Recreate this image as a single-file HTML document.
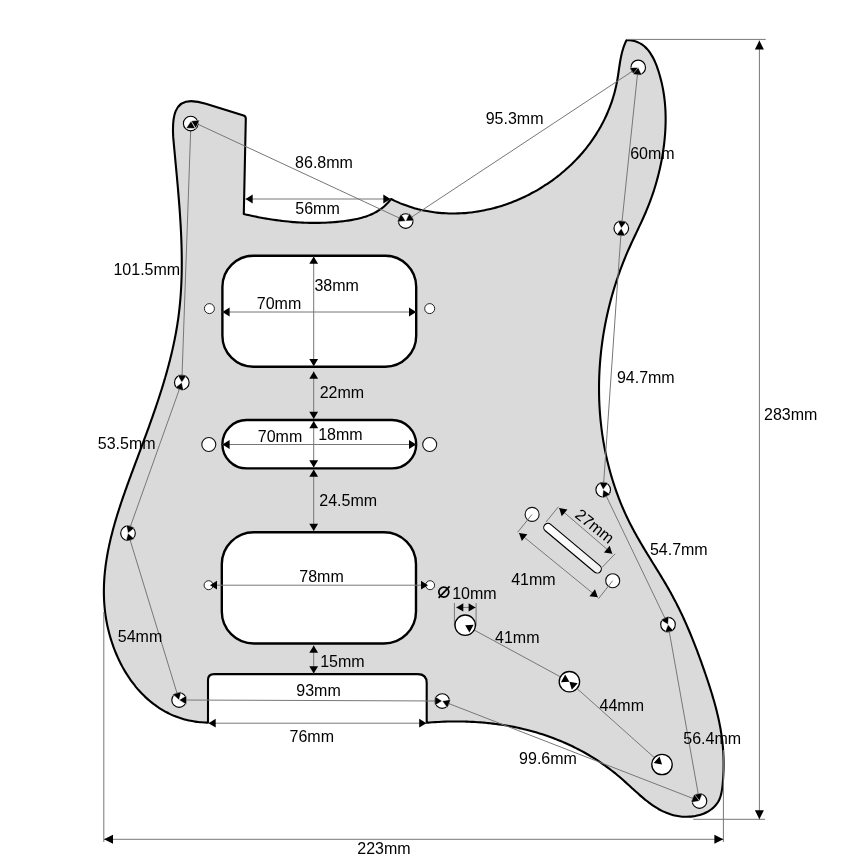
<!DOCTYPE html>
<html><head><meta charset="utf-8"><style>html,body{margin:0;padding:0;background:#fff;width:868px;height:868px;overflow:hidden}svg{display:block;will-change:transform}</style></head>
<body>
<svg width="868" height="868" viewBox="0 0 868 868">
<rect width="868" height="868" fill="#fff"/>
<path d="M208.00,722.60 C207.45,722.58 205.80,722.56 204.71,722.51 C203.62,722.46 202.54,722.39 201.46,722.31 C200.39,722.23 199.33,722.12 198.27,722.00 C197.22,721.89 196.17,721.75 195.13,721.60 C194.09,721.44 193.06,721.27 192.04,721.08 C191.02,720.90 190.00,720.69 189.00,720.47 C187.99,720.26 186.99,720.02 186.01,719.77 C185.02,719.52 184.04,719.25 183.07,718.96 C182.10,718.68 181.13,718.38 180.18,718.07 C179.23,717.75 178.28,717.42 177.34,717.08 C176.41,716.74 175.48,716.38 174.56,716.00 C173.64,715.63 172.73,715.24 171.82,714.84 C170.92,714.44 170.03,714.02 169.14,713.59 C168.26,713.16 167.38,712.72 166.51,712.26 C165.65,711.80 164.79,711.33 163.94,710.85 C163.08,710.36 162.24,709.86 161.41,709.35 C160.58,708.84 159.75,708.32 158.94,707.79 C158.12,707.25 157.31,706.70 156.52,706.14 C155.72,705.58 154.93,705.01 154.15,704.43 C153.37,703.84 152.59,703.25 151.83,702.64 C151.07,702.03 150.31,701.41 149.57,700.78 C148.82,700.15 148.09,699.51 147.36,698.86 C146.63,698.21 145.91,697.55 145.20,696.87 C144.49,696.20 143.79,695.52 143.10,694.83 C142.40,694.13 141.72,693.43 141.05,692.72 C140.37,692.00 139.71,691.28 139.05,690.55 C138.39,689.82 137.75,689.08 137.11,688.32 C136.47,687.57 135.84,686.81 135.22,686.05 C134.60,685.28 133.99,684.50 133.38,683.72 C132.78,682.93 132.19,682.14 131.60,681.34 C131.02,680.54 130.44,679.73 129.87,678.91 C129.31,678.09 128.75,677.27 128.20,676.43 C127.65,675.60 127.11,674.76 126.58,673.92 C126.05,673.07 125.53,672.22 125.02,671.36 C124.51,670.50 124.00,669.63 123.51,668.76 C123.02,667.89 122.53,667.01 122.06,666.12 C121.58,665.24 121.12,664.35 120.66,663.45 C120.20,662.55 119.75,661.65 119.31,660.74 C118.88,659.84 118.45,658.92 118.03,658.01 C117.61,657.09 117.20,656.17 116.79,655.24 C116.39,654.31 116.00,653.38 115.62,652.44 C115.23,651.51 114.86,650.57 114.49,649.63 C114.13,648.68 113.78,647.73 113.43,646.78 C113.08,645.83 112.75,644.88 112.42,643.92 C112.09,642.96 111.77,642.00 111.47,641.04 C111.16,640.07 110.86,639.11 110.57,638.14 C110.28,637.17 110.00,636.19 109.73,635.22 C109.46,634.25 109.20,633.27 108.94,632.29 C108.69,631.32 108.45,630.34 108.22,629.35 C107.98,628.37 107.76,627.39 107.55,626.41 C107.33,625.42 107.13,624.44 106.93,623.45 C106.74,622.47 106.55,621.48 106.38,620.49 C106.20,619.51 106.03,618.52 105.88,617.53 C105.72,616.55 105.57,615.56 105.44,614.57 C105.30,613.58 105.17,612.60 105.05,611.61 C104.93,610.62 104.82,609.64 104.72,608.65 C104.62,607.67 104.53,606.68 104.45,605.69 C104.37,604.71 104.30,603.72 104.23,602.74 C104.17,601.75 104.11,600.77 104.07,599.78 C104.02,598.80 103.98,597.81 103.95,596.83 C103.92,595.84 103.90,594.86 103.89,593.87 C103.87,592.89 103.87,591.91 103.87,590.92 C103.88,589.94 103.89,588.96 103.91,587.97 C103.93,586.99 103.95,586.01 103.99,585.02 C104.02,584.04 104.07,583.06 104.12,582.08 C104.17,581.10 104.23,580.11 104.29,579.13 C104.36,578.15 104.43,577.17 104.51,576.19 C104.59,575.21 104.67,574.23 104.77,573.25 C104.86,572.27 104.96,571.29 105.07,570.31 C105.18,569.33 105.29,568.35 105.41,567.37 C105.53,566.39 105.66,565.41 105.79,564.43 C105.93,563.45 106.07,562.47 106.22,561.49 C106.36,560.52 106.51,559.54 106.67,558.56 C106.83,557.58 107.00,556.61 107.17,555.63 C107.34,554.65 107.51,553.68 107.70,552.70 C107.88,551.72 108.07,550.75 108.26,549.77 C108.45,548.80 108.65,547.82 108.86,546.85 C109.06,545.87 109.27,544.90 109.48,543.92 C109.70,542.95 109.92,541.97 110.14,541.00 C110.37,540.03 110.60,539.05 110.83,538.08 C111.07,537.11 111.31,536.13 111.55,535.16 C111.79,534.19 112.04,533.22 112.29,532.25 C112.55,531.27 112.80,530.30 113.06,529.33 C113.32,528.36 113.59,527.39 113.86,526.42 C114.13,525.45 114.40,524.48 114.68,523.51 C114.96,522.54 115.24,521.57 115.52,520.60 C115.81,519.63 116.09,518.67 116.39,517.70 C116.68,516.73 116.97,515.76 117.27,514.80 C117.57,513.83 117.87,512.86 118.18,511.90 C118.48,510.93 118.79,509.96 119.10,509.00 C119.41,508.03 119.72,507.07 120.04,506.10 C120.36,505.14 120.68,504.17 121.00,503.21 C121.32,502.24 121.64,501.28 121.97,500.32 C122.30,499.35 122.63,498.39 122.96,497.43 C123.29,496.47 123.62,495.50 123.96,494.54 C124.29,493.58 124.63,492.62 124.97,491.66 C125.31,490.70 125.65,489.74 125.99,488.78 C126.33,487.82 126.68,486.86 127.02,485.90 C127.37,484.94 127.71,483.98 128.06,483.02 C128.41,482.07 128.76,481.11 129.11,480.15 C129.46,479.19 129.81,478.24 130.16,477.28 C130.51,476.33 130.87,475.37 131.22,474.41 C131.57,473.46 131.93,472.50 132.28,471.55 C132.64,470.59 132.99,469.64 133.35,468.69 C133.70,467.73 134.06,466.78 134.42,465.83 C134.77,464.88 135.13,463.92 135.49,462.97 C135.84,462.02 136.20,461.07 136.55,460.12 C136.91,459.17 137.27,458.22 137.62,457.27 C137.98,456.32 138.33,455.37 138.69,454.42 C139.04,453.47 139.40,452.52 139.75,451.57 C140.11,450.63 140.46,449.68 140.81,448.73 C141.17,447.78 141.52,446.84 141.87,445.89 C142.22,444.94 142.58,444.00 142.93,443.05 C143.28,442.10 143.63,441.16 143.98,440.21 C144.33,439.26 144.68,438.32 145.02,437.37 C145.37,436.43 145.72,435.48 146.07,434.54 C146.41,433.59 146.76,432.65 147.10,431.70 C147.45,430.76 147.79,429.81 148.13,428.87 C148.48,427.93 148.82,426.98 149.16,426.04 C149.50,425.09 149.84,424.15 150.18,423.21 C150.51,422.26 150.85,421.32 151.19,420.37 C151.52,419.43 151.86,418.48 152.19,417.54 C152.52,416.60 152.85,415.65 153.18,414.71 C153.51,413.76 153.84,412.82 154.17,411.88 C154.49,410.93 154.82,409.99 155.14,409.04 C155.47,408.10 155.79,407.16 156.11,406.21 C156.43,405.27 156.75,404.32 157.06,403.38 C157.38,402.43 157.69,401.49 158.01,400.54 C158.32,399.60 158.63,398.65 158.94,397.70 C159.25,396.76 159.56,395.81 159.86,394.87 C160.17,393.92 160.47,392.97 160.77,392.03 C161.07,391.08 161.37,390.13 161.66,389.19 C161.96,388.24 162.26,387.29 162.55,386.34 C162.84,385.40 163.13,384.45 163.42,383.50 C163.70,382.55 163.99,381.60 164.27,380.65 C164.55,379.70 164.83,378.75 165.11,377.80 C165.39,376.85 165.66,375.90 165.93,374.95 C166.20,374.00 166.47,373.05 166.74,372.09 C167.01,371.14 167.27,370.19 167.53,369.24 C167.79,368.28 168.05,367.33 168.31,366.37 C168.56,365.42 168.82,364.47 169.06,363.51 C169.31,362.55 169.56,361.60 169.80,360.64 C170.05,359.68 170.29,358.73 170.53,357.77 C170.76,356.81 171.00,355.85 171.23,354.89 C171.46,353.93 171.69,352.97 171.91,352.01 C172.14,351.05 172.36,350.09 172.57,349.13 C172.79,348.17 173.01,347.20 173.22,346.24 C173.43,345.27 173.63,344.31 173.84,343.34 C174.04,342.38 174.24,341.41 174.44,340.45 C174.64,339.48 174.83,338.51 175.02,337.54 C175.21,336.57 175.39,335.60 175.57,334.63 C175.76,333.66 175.93,332.69 176.11,331.72 C176.28,330.75 176.45,329.77 176.62,328.80 C176.78,327.82 176.95,326.85 177.10,325.87 C177.26,324.90 177.42,323.92 177.57,322.94 C177.72,321.96 177.86,320.98 178.00,320.00 C178.15,319.02 178.28,318.04 178.42,317.06 C178.55,316.07 178.68,315.09 178.80,314.11 C178.93,313.12 179.05,312.13 179.16,311.15 C179.28,310.16 179.39,309.17 179.50,308.18 C179.60,307.19 179.71,306.20 179.80,305.21 C179.90,304.22 180.00,303.23 180.09,302.24 C180.18,301.24 180.27,300.25 180.35,299.25 C180.43,298.26 180.51,297.26 180.59,296.27 C180.66,295.27 180.73,294.27 180.80,293.27 C180.87,292.27 180.93,291.28 180.99,290.27 C181.05,289.27 181.11,288.27 181.16,287.27 C181.21,286.27 181.26,285.27 181.31,284.27 C181.35,283.26 181.39,282.26 181.43,281.25 C181.47,280.25 181.51,279.24 181.54,278.24 C181.57,277.23 181.60,276.23 181.62,275.22 C181.65,274.21 181.67,273.21 181.69,272.20 C181.71,271.19 181.72,270.18 181.74,269.17 C181.75,268.16 181.76,267.16 181.77,266.15 C181.77,265.14 181.78,264.13 181.78,263.11 C181.78,262.10 181.78,261.09 181.77,260.08 C181.77,259.07 181.76,258.06 181.75,257.05 C181.74,256.03 181.72,255.02 181.71,254.01 C181.69,253.00 181.68,251.98 181.65,250.97 C181.63,249.96 181.61,248.95 181.58,247.93 C181.56,246.92 181.53,245.90 181.50,244.89 C181.47,243.88 181.44,242.86 181.40,241.85 C181.37,240.84 181.33,239.82 181.29,238.81 C181.25,237.79 181.21,236.78 181.16,235.76 C181.12,234.75 181.07,233.74 181.03,232.72 C180.98,231.71 180.93,230.69 180.88,229.68 C180.83,228.67 180.77,227.65 180.72,226.64 C180.66,225.62 180.60,224.61 180.54,223.60 C180.49,222.58 180.42,221.57 180.36,220.56 C180.30,219.54 180.24,218.53 180.17,217.52 C180.10,216.51 180.04,215.49 179.97,214.48 C179.90,213.47 179.83,212.46 179.76,211.45 C179.69,210.43 179.61,209.42 179.54,208.41 C179.47,207.40 179.39,206.39 179.31,205.38 C179.24,204.37 179.16,203.36 179.08,202.35 C179.00,201.34 178.92,200.34 178.84,199.33 C178.76,198.32 178.68,197.31 178.59,196.31 C178.51,195.30 178.43,194.29 178.34,193.29 C178.26,192.28 178.17,191.27 178.08,190.27 C178.00,189.27 177.91,188.26 177.82,187.26 C177.74,186.26 177.65,185.25 177.56,184.25 C177.47,183.25 177.38,182.25 177.29,181.25 C177.20,180.25 177.11,179.25 177.02,178.25 C176.93,177.25 176.83,176.25 176.74,175.26 C176.65,174.26 176.56,173.26 176.47,172.27 C176.37,171.27 176.28,170.28 176.19,169.28 C176.10,168.29 176.00,167.30 175.91,166.31 C175.82,165.31 175.73,164.32 175.63,163.33 C175.54,162.35 175.45,161.36 175.35,160.37 C175.26,159.38 175.17,158.40 175.08,157.41 C174.98,156.43 174.89,155.44 174.80,154.46 C174.71,153.48 174.62,152.49 174.53,151.51 C174.43,150.53 174.34,149.55 174.25,148.57 C174.16,147.60 174.07,146.62 173.98,145.64 C173.90,144.67 173.81,143.69 173.72,142.72 C173.63,141.75 173.54,140.78 173.46,139.81 C173.37,138.84 173.24,137.38 173.20,136.90 C172,116 175,101.1 191.1,101.1 C197.5,101.1 201.3,102.3 205.8,103.8 L243.6,115.5 Q245.8,116.2 245.8,118.6 L243.80,214.00 C244.28,214.11 245.70,214.46 246.66,214.68 C247.62,214.90 248.58,215.12 249.54,215.33 C250.50,215.55 251.47,215.76 252.44,215.97 C253.41,216.17 254.38,216.38 255.35,216.58 C256.33,216.78 257.30,216.97 258.28,217.16 C259.26,217.35 260.24,217.54 261.23,217.73 C262.21,217.91 263.20,218.09 264.19,218.26 C265.17,218.44 266.17,218.61 267.16,218.78 C268.15,218.94 269.15,219.10 270.14,219.26 C271.14,219.42 272.14,219.57 273.14,219.72 C274.14,219.87 275.14,220.01 276.15,220.15 C277.15,220.29 278.16,220.42 279.17,220.55 C280.17,220.68 281.18,220.81 282.19,220.93 C283.20,221.05 284.21,221.16 285.23,221.27 C286.24,221.38 287.25,221.48 288.27,221.58 C289.28,221.68 290.30,221.78 291.32,221.86 C292.33,221.95 293.35,222.04 294.37,222.11 C295.39,222.19 296.41,222.26 297.43,222.33 C298.45,222.40 299.47,222.46 300.49,222.52 C301.51,222.57 302.54,222.62 303.56,222.67 C304.58,222.71 305.60,222.75 306.62,222.78 C307.65,222.81 308.67,222.84 309.69,222.86 C310.72,222.88 311.74,222.89 312.76,222.90 C313.78,222.91 314.81,222.91 315.83,222.91 C316.85,222.91 317.87,222.90 318.90,222.88 C319.92,222.86 320.94,222.84 321.96,222.81 C322.98,222.78 324.00,222.74 325.02,222.70 C326.04,222.66 327.06,222.61 328.08,222.55 C329.10,222.50 330.11,222.44 331.13,222.37 C332.15,222.30 333.16,222.22 334.18,222.14 C335.19,222.05 336.20,221.96 337.22,221.87 C338.23,221.77 339.24,221.66 340.25,221.55 C341.26,221.44 342.26,221.32 343.27,221.20 C344.28,221.07 345.28,220.94 346.29,220.80 C347.29,220.66 348.29,220.51 349.29,220.35 C350.29,220.19 351.28,220.03 352.27,219.85 C353.27,219.67 354.26,219.49 355.24,219.28 C356.22,219.08 357.20,218.87 358.18,218.65 C359.15,218.42 360.12,218.18 361.08,217.92 C362.04,217.66 362.99,217.39 363.94,217.10 C364.88,216.81 365.82,216.51 366.75,216.18 C367.68,215.85 368.60,215.51 369.51,215.14 C370.43,214.78 371.33,214.39 372.22,213.98 C373.11,213.57 373.99,213.14 374.86,212.68 C375.72,212.23 376.58,211.75 377.42,211.24 C378.27,210.74 379.10,210.21 379.91,209.65 C380.73,209.09 381.53,208.50 382.32,207.89 C383.11,207.27 383.88,206.63 384.64,205.95 C385.40,205.28 386.14,204.57 386.86,203.83 C387.59,203.09 388.30,202.32 388.99,201.52 C389.67,200.71 390.66,199.42 391.00,199.00 C391.46,199.23 392.84,199.92 393.76,200.36 C394.69,200.80 395.61,201.23 396.55,201.65 C397.48,202.07 398.41,202.47 399.35,202.87 C400.28,203.26 401.22,203.65 402.17,204.02 C403.11,204.39 404.06,204.75 405.00,205.10 C405.95,205.45 406.90,205.79 407.86,206.11 C408.81,206.44 409.77,206.75 410.73,207.06 C411.68,207.36 412.65,207.66 413.61,207.94 C414.57,208.22 415.54,208.49 416.50,208.75 C417.47,209.01 418.44,209.26 419.41,209.49 C420.39,209.73 421.36,209.96 422.33,210.17 C423.31,210.39 424.29,210.59 425.27,210.79 C426.25,210.98 427.23,211.17 428.21,211.34 C429.19,211.51 430.17,211.67 431.16,211.82 C432.14,211.98 433.13,212.12 434.12,212.25 C435.10,212.38 436.09,212.50 437.08,212.61 C438.07,212.72 439.06,212.82 440.05,212.90 C441.04,212.99 442.04,213.07 443.03,213.14 C444.02,213.21 445.02,213.27 446.01,213.31 C447.01,213.36 448.00,213.40 449.00,213.43 C449.99,213.45 450.99,213.47 451.98,213.48 C452.98,213.49 453.97,213.48 454.97,213.47 C455.97,213.46 456.96,213.44 457.96,213.40 C458.96,213.37 459.95,213.33 460.95,213.28 C461.95,213.23 462.94,213.16 463.94,213.09 C464.93,213.02 465.93,212.94 466.92,212.85 C467.92,212.76 468.91,212.66 469.91,212.55 C470.90,212.44 471.89,212.33 472.88,212.20 C473.88,212.07 474.87,211.93 475.86,211.79 C476.85,211.64 477.84,211.48 478.83,211.32 C479.81,211.15 480.80,210.98 481.79,210.79 C482.77,210.61 483.76,210.42 484.74,210.22 C485.72,210.02 486.71,209.81 487.69,209.59 C488.67,209.37 489.64,209.14 490.62,208.90 C491.60,208.66 492.57,208.42 493.55,208.16 C494.52,207.91 495.49,207.64 496.46,207.37 C497.43,207.10 498.40,206.82 499.36,206.53 C500.33,206.24 501.29,205.94 502.25,205.63 C503.21,205.33 504.17,205.01 505.13,204.69 C506.08,204.36 507.03,204.03 507.99,203.69 C508.94,203.35 509.88,203.00 510.83,202.65 C511.77,202.29 512.72,201.92 513.66,201.55 C514.60,201.18 515.53,200.80 516.47,200.41 C517.40,200.02 518.33,199.62 519.26,199.21 C520.18,198.81 521.11,198.40 522.03,197.97 C522.95,197.55 523.86,197.12 524.78,196.69 C525.69,196.25 526.60,195.80 527.51,195.35 C528.41,194.90 529.31,194.44 530.21,193.97 C531.11,193.50 532.01,193.03 532.90,192.54 C533.79,192.06 534.67,191.57 535.56,191.07 C536.44,190.57 537.32,190.07 538.19,189.56 C539.06,189.04 539.93,188.52 540.80,188.00 C541.66,187.47 542.52,186.93 543.38,186.39 C544.24,185.85 545.09,185.30 545.93,184.74 C546.78,184.19 547.62,183.62 548.46,183.05 C549.30,182.48 550.13,181.91 550.95,181.32 C551.78,180.74 552.60,180.15 553.42,179.55 C554.23,178.95 555.05,178.34 555.85,177.73 C556.66,177.12 557.46,176.50 558.25,175.88 C559.05,175.25 559.84,174.62 560.62,173.98 C561.40,173.34 562.18,172.70 562.95,172.05 C563.72,171.40 564.49,170.74 565.25,170.07 C566.01,169.41 566.76,168.74 567.51,168.06 C568.26,167.38 569.00,166.70 569.74,166.01 C570.47,165.32 571.20,164.62 571.92,163.92 C572.65,163.22 573.36,162.51 574.07,161.80 C574.78,161.08 575.48,160.36 576.18,159.64 C576.88,158.91 577.56,158.18 578.25,157.44 C578.93,156.70 579.60,155.96 580.27,155.21 C580.94,154.46 581.60,153.70 582.26,152.94 C582.91,152.18 583.56,151.41 584.20,150.64 C584.83,149.87 585.47,149.09 586.09,148.31 C586.72,147.52 587.33,146.73 587.94,145.94 C588.55,145.14 589.15,144.34 589.75,143.54 C590.34,142.73 590.93,141.92 591.51,141.11 C592.09,140.29 592.66,139.47 593.22,138.65 C593.78,137.82 594.34,136.99 594.89,136.15 C595.43,135.32 595.97,134.48 596.50,133.63 C597.04,132.79 597.56,131.94 598.07,131.08 C598.59,130.23 599.09,129.37 599.59,128.50 C600.09,127.64 600.58,126.77 601.06,125.89 C601.54,125.02 602.01,124.14 602.48,123.26 C602.94,122.38 603.40,121.49 603.84,120.60 C604.29,119.71 604.73,118.81 605.16,117.91 C605.59,117.01 606.01,116.11 606.42,115.20 C606.83,114.29 607.23,113.38 607.62,112.47 C608.02,111.55 608.40,110.63 608.78,109.71 C609.15,108.78 609.52,107.85 609.87,106.92 C610.23,105.99 610.57,105.06 610.91,104.12 C611.25,103.18 611.58,102.24 611.90,101.29 C612.21,100.34 612.52,99.39 612.82,98.44 C613.12,97.49 613.41,96.53 613.69,95.57 C613.97,94.61 614.24,93.65 614.50,92.68 C614.76,91.72 615.01,90.75 615.25,89.77 C615.49,88.80 615.72,87.82 615.94,86.85 C616.16,85.87 616.37,84.89 616.57,83.90 C616.77,82.92 616.96,81.93 617.14,80.94 C617.32,79.95 617.49,78.95 617.65,77.96 C617.81,76.97 617.97,75.97 618.12,74.97 C618.27,73.97 618.41,72.98 618.56,71.98 C618.71,70.98 618.85,69.98 618.99,68.98 C619.14,67.99 619.28,66.99 619.44,65.99 C619.59,65.00 619.74,64.01 619.90,63.02 C620.06,62.03 620.23,61.04 620.41,60.05 C620.59,59.07 620.77,58.09 620.97,57.11 C621.17,56.14 621.38,55.16 621.61,54.20 C621.84,53.23 622.08,52.27 622.34,51.31 C622.60,50.36 622.88,49.41 623.18,48.47 C623.48,47.52 623.79,46.59 624.14,45.66 C624.48,44.73 624.85,43.81 625.24,42.90 C625.63,41.99 626.29,40.65 626.50,40.20 C627.06,40.22 628.77,40.21 629.85,40.30 C630.93,40.39 631.97,40.54 632.98,40.75 C633.98,40.95 634.95,41.21 635.88,41.51 C636.81,41.82 637.71,42.18 638.57,42.58 C639.44,42.99 640.27,43.44 641.06,43.93 C641.86,44.42 642.63,44.96 643.37,45.54 C644.11,46.11 644.81,46.73 645.50,47.37 C646.18,48.02 646.83,48.71 647.45,49.42 C648.08,50.14 648.68,50.89 649.26,51.66 C649.83,52.44 650.38,53.24 650.91,54.07 C651.44,54.90 651.94,55.75 652.43,56.62 C652.92,57.49 653.38,58.39 653.82,59.30 C654.27,60.20 654.69,61.13 655.10,62.07 C655.51,63.01 655.90,63.96 656.28,64.92 C656.65,65.88 657.01,66.86 657.36,67.83 C657.70,68.81 658.03,69.79 658.35,70.77 C658.67,71.76 658.98,72.74 659.28,73.73 C659.57,74.71 659.86,75.70 660.13,76.69 C660.40,77.67 660.67,78.66 660.92,79.65 C661.17,80.64 661.41,81.63 661.64,82.62 C661.87,83.61 662.09,84.60 662.29,85.59 C662.50,86.58 662.70,87.57 662.89,88.56 C663.07,89.55 663.25,90.54 663.42,91.54 C663.58,92.53 663.74,93.52 663.89,94.52 C664.03,95.51 664.17,96.50 664.30,97.50 C664.43,98.49 664.54,99.49 664.65,100.48 C664.76,101.48 664.86,102.47 664.95,103.47 C665.04,104.46 665.12,105.46 665.19,106.45 C665.26,107.45 665.32,108.44 665.38,109.44 C665.43,110.44 665.48,111.43 665.51,112.43 C665.55,113.42 665.58,114.42 665.60,115.42 C665.62,116.41 665.63,117.41 665.64,118.40 C665.64,119.40 665.63,120.40 665.62,121.39 C665.61,122.39 665.59,123.38 665.56,124.38 C665.54,125.38 665.50,126.37 665.46,127.37 C665.42,128.36 665.37,129.36 665.31,130.35 C665.25,131.35 665.19,132.34 665.12,133.34 C665.05,134.33 664.97,135.33 664.89,136.32 C664.80,137.31 664.71,138.31 664.61,139.30 C664.52,140.29 664.41,141.29 664.30,142.28 C664.19,143.27 664.07,144.26 663.95,145.25 C663.83,146.24 663.70,147.23 663.56,148.22 C663.43,149.21 663.29,150.20 663.14,151.19 C662.99,152.18 662.84,153.17 662.67,154.15 C662.51,155.14 662.35,156.13 662.17,157.11 C662.00,158.10 661.82,159.08 661.64,160.07 C661.45,161.05 661.26,162.03 661.06,163.01 C660.87,163.99 660.66,164.97 660.45,165.95 C660.24,166.93 660.03,167.91 659.81,168.89 C659.58,169.86 659.36,170.84 659.12,171.81 C658.89,172.79 658.65,173.76 658.41,174.73 C658.16,175.70 657.91,176.67 657.65,177.64 C657.39,178.61 657.13,179.58 656.86,180.55 C656.59,181.51 656.32,182.47 656.04,183.44 C655.76,184.40 655.47,185.36 655.18,186.32 C654.89,187.28 654.59,188.24 654.29,189.19 C653.99,190.15 653.68,191.10 653.36,192.05 C653.05,193.01 652.73,193.96 652.41,194.90 C652.08,195.85 651.75,196.80 651.41,197.74 C651.08,198.69 650.73,199.63 650.39,200.57 C650.04,201.51 649.69,202.45 649.33,203.38 C648.97,204.32 648.61,205.25 648.24,206.18 C647.87,207.12 647.49,208.04 647.11,208.97 C646.73,209.90 646.35,210.82 645.96,211.74 C645.57,212.67 645.17,213.59 644.77,214.50 C644.37,215.42 643.97,216.34 643.56,217.25 C643.15,218.16 642.74,219.08 642.32,219.99 C641.91,220.90 641.49,221.81 641.07,222.71 C640.65,223.62 640.22,224.53 639.80,225.43 C639.37,226.34 638.95,227.25 638.52,228.15 C638.09,229.06 637.66,229.96 637.23,230.87 C636.80,231.77 636.37,232.67 635.94,233.58 C635.51,234.48 635.08,235.39 634.65,236.29 C634.23,237.20 633.80,238.10 633.37,239.01 C632.95,239.91 632.52,240.82 632.10,241.73 C631.67,242.64 631.25,243.55 630.84,244.46 C630.42,245.37 630.00,246.28 629.59,247.19 C629.18,248.11 628.77,249.02 628.37,249.94 C627.97,250.85 627.57,251.77 627.17,252.69 C626.78,253.62 626.38,254.54 626.00,255.46 C625.61,256.39 625.23,257.31 624.85,258.24 C624.47,259.17 624.09,260.10 623.72,261.03 C623.35,261.96 622.98,262.90 622.62,263.83 C622.25,264.77 621.89,265.70 621.54,266.64 C621.18,267.58 620.83,268.52 620.48,269.46 C620.14,270.40 619.79,271.34 619.45,272.29 C619.11,273.23 618.78,274.18 618.45,275.13 C618.12,276.08 617.79,277.02 617.47,277.98 C617.14,278.93 616.82,279.88 616.51,280.83 C616.19,281.79 615.88,282.74 615.58,283.70 C615.27,284.65 614.97,285.61 614.67,286.57 C614.37,287.53 614.08,288.49 613.79,289.45 C613.50,290.41 613.21,291.37 612.93,292.34 C612.65,293.30 612.37,294.27 612.10,295.23 C611.82,296.20 611.55,297.17 611.29,298.14 C611.02,299.11 610.76,300.08 610.51,301.05 C610.25,302.02 610.00,302.99 609.75,303.97 C609.50,304.94 609.25,305.91 609.01,306.89 C608.77,307.86 608.54,308.84 608.31,309.82 C608.08,310.80 607.85,311.77 607.63,312.75 C607.40,313.73 607.18,314.71 606.97,315.70 C606.75,316.68 606.54,317.66 606.34,318.64 C606.13,319.63 605.93,320.61 605.73,321.59 C605.53,322.58 605.34,323.56 605.15,324.55 C604.96,325.54 604.78,326.52 604.60,327.51 C604.42,328.50 604.24,329.49 604.07,330.48 C603.90,331.47 603.73,332.46 603.57,333.45 C603.40,334.44 603.24,335.43 603.09,336.42 C602.94,337.41 602.79,338.41 602.64,339.40 C602.49,340.39 602.35,341.39 602.21,342.38 C602.08,343.38 601.94,344.37 601.82,345.37 C601.69,346.36 601.56,347.36 601.44,348.35 C601.32,349.35 601.21,350.34 601.10,351.34 C600.99,352.34 600.88,353.34 600.78,354.33 C600.68,355.33 600.58,356.33 600.49,357.33 C600.39,358.33 600.30,359.32 600.22,360.32 C600.13,361.32 600.05,362.32 599.98,363.32 C599.90,364.32 599.83,365.32 599.77,366.32 C599.70,367.32 599.64,368.32 599.58,369.32 C599.52,370.32 599.47,371.32 599.42,372.32 C599.37,373.32 599.33,374.32 599.29,375.32 C599.25,376.32 599.21,377.32 599.18,378.32 C599.15,379.32 599.12,380.33 599.10,381.33 C599.08,382.33 599.06,383.33 599.05,384.33 C599.04,385.33 599.03,386.33 599.02,387.33 C599.02,388.33 599.02,389.33 599.03,390.33 C599.03,391.33 599.04,392.33 599.06,393.33 C599.07,394.33 599.09,395.33 599.11,396.33 C599.14,397.33 599.17,398.33 599.20,399.32 C599.23,400.32 599.27,401.32 599.31,402.32 C599.35,403.32 599.40,404.31 599.45,405.31 C599.50,406.31 599.56,407.31 599.62,408.30 C599.68,409.30 599.74,410.30 599.81,411.29 C599.88,412.29 599.96,413.28 600.04,414.28 C600.12,415.27 600.20,416.27 600.29,417.26 C600.38,418.25 600.47,419.25 600.57,420.24 C600.67,421.23 600.77,422.22 600.88,423.21 C600.98,424.21 601.09,425.20 601.21,426.19 C601.33,427.18 601.45,428.17 601.57,429.15 C601.70,430.14 601.83,431.13 601.97,432.12 C602.10,433.11 602.24,434.09 602.39,435.08 C602.53,436.06 602.68,437.05 602.83,438.03 C602.99,439.02 603.15,440.00 603.31,440.98 C603.48,441.96 603.64,442.95 603.82,443.93 C603.99,444.91 604.17,445.89 604.35,446.86 C604.53,447.84 604.72,448.82 604.92,449.80 C605.11,450.77 605.30,451.75 605.51,452.72 C605.71,453.70 605.92,454.67 606.13,455.64 C606.34,456.62 606.56,457.59 606.78,458.56 C607.00,459.53 607.22,460.50 607.46,461.46 C607.69,462.43 607.92,463.40 608.16,464.36 C608.40,465.33 608.65,466.29 608.90,467.26 C609.15,468.22 609.41,469.18 609.67,470.14 C609.93,471.10 610.19,472.06 610.46,473.02 C610.73,473.98 611.01,474.93 611.29,475.89 C611.57,476.84 611.85,477.80 612.14,478.75 C612.43,479.70 612.73,480.65 613.03,481.60 C613.32,482.55 613.63,483.50 613.94,484.44 C614.25,485.39 614.56,486.33 614.88,487.28 C615.20,488.22 615.53,489.16 615.85,490.10 C616.18,491.04 616.52,491.98 616.86,492.92 C617.20,493.85 617.54,494.79 617.89,495.72 C618.24,496.66 618.59,497.59 618.95,498.52 C619.31,499.45 619.68,500.37 620.05,501.30 C620.41,502.23 620.79,503.15 621.17,504.07 C621.55,505.00 621.93,505.92 622.32,506.84 C622.71,507.76 623.10,508.67 623.50,509.59 C623.90,510.50 624.31,511.42 624.72,512.33 C625.13,513.24 625.54,514.15 625.96,515.06 C626.38,515.97 626.81,516.87 627.24,517.77 C627.67,518.68 628.10,519.58 628.54,520.48 C628.98,521.38 629.43,522.28 629.88,523.17 C630.33,524.07 630.78,524.96 631.24,525.85 C631.70,526.74 632.17,527.63 632.64,528.52 C633.11,529.40 633.58,530.29 634.06,531.17 C634.54,532.05 635.03,532.94 635.51,533.82 C636.00,534.70 636.49,535.57 636.99,536.45 C637.48,537.33 637.98,538.20 638.48,539.08 C638.98,539.95 639.49,540.82 640.00,541.69 C640.50,542.56 641.01,543.43 641.53,544.30 C642.04,545.17 642.56,546.04 643.08,546.91 C643.59,547.77 644.11,548.64 644.64,549.50 C645.16,550.37 645.68,551.23 646.21,552.10 C646.73,552.96 647.26,553.82 647.79,554.69 C648.32,555.55 648.85,556.41 649.38,557.27 C649.91,558.13 650.44,558.99 650.97,559.85 C651.50,560.72 652.03,561.58 652.57,562.44 C653.10,563.30 653.63,564.16 654.16,565.02 C654.70,565.88 655.23,566.74 655.76,567.60 C656.29,568.46 656.82,569.32 657.35,570.19 C657.88,571.05 658.41,571.91 658.94,572.77 C659.47,573.63 659.99,574.50 660.52,575.36 C661.04,576.22 661.57,577.09 662.09,577.95 C662.61,578.82 663.13,579.68 663.65,580.55 C664.17,581.42 664.68,582.29 665.19,583.15 C665.71,584.02 666.22,584.89 666.72,585.76 C667.23,586.63 667.73,587.51 668.23,588.38 C668.74,589.25 669.23,590.13 669.73,591.01 C670.22,591.88 670.71,592.76 671.20,593.64 C671.68,594.52 672.16,595.40 672.64,596.28 C673.12,597.17 673.59,598.05 674.06,598.94 C674.53,599.82 675.00,600.71 675.46,601.60 C675.92,602.49 676.38,603.38 676.83,604.28 C677.29,605.17 677.74,606.06 678.18,606.96 C678.63,607.86 679.07,608.75 679.51,609.65 C679.95,610.55 680.39,611.45 680.82,612.35 C681.25,613.26 681.68,614.16 682.10,615.06 C682.53,615.97 682.95,616.87 683.37,617.78 C683.79,618.69 684.20,619.60 684.61,620.51 C685.02,621.42 685.43,622.33 685.84,623.24 C686.24,624.16 686.65,625.07 687.05,625.99 C687.44,626.90 687.84,627.82 688.23,628.74 C688.63,629.65 689.02,630.57 689.40,631.49 C689.79,632.41 690.18,633.33 690.56,634.26 C690.94,635.18 691.32,636.10 691.70,637.03 C692.07,637.95 692.45,638.88 692.82,639.80 C693.19,640.73 693.56,641.66 693.92,642.59 C694.29,643.51 694.65,644.44 695.02,645.37 C695.38,646.30 695.74,647.24 696.09,648.17 C696.45,649.10 696.81,650.03 697.16,650.97 C697.51,651.90 697.86,652.84 698.21,653.77 C698.56,654.71 698.91,655.64 699.25,656.58 C699.59,657.52 699.94,658.46 700.28,659.40 C700.62,660.33 700.96,661.27 701.30,662.21 C701.63,663.15 701.97,664.10 702.30,665.04 C702.64,665.98 702.97,666.92 703.30,667.86 C703.63,668.81 703.96,669.75 704.29,670.69 C704.61,671.64 704.94,672.58 705.27,673.53 C705.59,674.47 705.91,675.42 706.24,676.36 C706.56,677.31 706.88,678.25 707.20,679.20 C707.51,680.15 707.83,681.10 708.14,682.04 C708.46,682.99 708.77,683.94 709.08,684.89 C709.39,685.84 709.70,686.79 710.00,687.74 C710.30,688.70 710.60,689.65 710.90,690.60 C711.20,691.55 711.49,692.51 711.79,693.46 C712.08,694.42 712.37,695.37 712.65,696.33 C712.94,697.28 713.22,698.24 713.49,699.20 C713.77,700.16 714.05,701.12 714.32,702.08 C714.58,703.04 714.85,704.00 715.11,704.96 C715.37,705.92 715.63,706.88 715.88,707.85 C716.13,708.81 716.38,709.78 716.62,710.74 C716.87,711.71 717.10,712.68 717.34,713.65 C717.57,714.61 717.80,715.58 718.02,716.55 C718.24,717.53 718.46,718.50 718.67,719.47 C718.88,720.44 719.08,721.42 719.28,722.39 C719.48,723.37 719.68,724.35 719.86,725.33 C720.05,726.30 720.23,727.28 720.41,728.27 C720.58,729.25 720.75,730.23 720.91,731.21 C721.07,732.20 721.23,733.18 721.38,734.17 C721.52,735.16 721.67,736.14 721.80,737.13 C721.93,738.12 722.06,739.12 722.18,740.11 C722.30,741.10 722.41,742.10 722.51,743.09 C722.62,744.09 722.71,745.09 722.80,746.09 C722.89,747.09 722.97,748.09 723.05,749.09 C723.12,750.09 723.19,751.10 723.25,752.11 C723.31,753.11 723.36,754.12 723.40,755.14 C723.44,756.15 723.48,757.16 723.51,758.18 C723.54,759.20 723.56,760.21 723.58,761.24 C723.59,762.26 723.60,763.28 723.59,764.31 C723.59,765.33 723.59,766.36 723.57,767.39 C723.55,768.43 723.53,769.46 723.50,770.50 C723.47,771.54 723.43,772.58 723.38,773.62 C723.34,774.66 723.28,775.71 723.22,776.76 C723.16,777.81 723.09,778.86 723.02,779.92 C722.94,780.98 722.86,782.04 722.76,783.10 C722.67,784.16 722.57,785.23 722.45,786.28 C722.33,787.34 722.20,788.40 722.04,789.44 C721.89,790.47 721.71,791.51 721.50,792.51 C721.28,793.52 721.05,794.51 720.77,795.48 C720.49,796.44 720.18,797.38 719.82,798.28 C719.46,799.18 719.06,800.05 718.62,800.89 C718.17,801.72 717.68,802.52 717.16,803.28 C716.63,804.05 716.06,804.78 715.46,805.48 C714.85,806.17 714.21,806.84 713.54,807.47 C712.87,808.10 712.16,808.69 711.42,809.25 C710.68,809.82 709.92,810.35 709.12,810.84 C708.33,811.34 707.51,811.81 706.66,812.24 C705.82,812.67 704.95,813.07 704.07,813.44 C703.18,813.81 702.27,814.15 701.35,814.46 C700.42,814.76 699.48,815.04 698.53,815.28 C697.57,815.53 696.60,815.74 695.63,815.92 C694.65,816.11 693.66,816.26 692.66,816.38 C691.67,816.51 690.66,816.60 689.66,816.66 C688.65,816.73 687.64,816.76 686.63,816.77 C685.62,816.77 684.61,816.75 683.60,816.70 C682.59,816.65 681.58,816.57 680.58,816.46 C679.59,816.35 678.59,816.21 677.61,816.05 C676.62,815.89 675.65,815.70 674.68,815.48 C673.72,815.26 672.77,815.01 671.83,814.74 C670.89,814.47 669.96,814.18 669.04,813.86 C668.12,813.54 667.21,813.19 666.31,812.83 C665.41,812.46 664.52,812.07 663.64,811.66 C662.76,811.26 661.89,810.83 661.03,810.38 C660.16,809.93 659.31,809.46 658.46,808.97 C657.61,808.49 656.77,807.98 655.94,807.46 C655.11,806.94 654.28,806.40 653.46,805.85 C652.64,805.30 651.83,804.73 651.02,804.15 C650.21,803.57 649.41,802.97 648.61,802.37 C647.81,801.76 647.02,801.15 646.23,800.52 C645.44,799.89 644.65,799.25 643.87,798.60 C643.09,797.96 642.31,797.30 641.54,796.64 C640.76,795.98 639.99,795.30 639.22,794.63 C638.45,793.95 637.68,793.27 636.92,792.58 C636.15,791.89 635.38,791.20 634.62,790.51 C633.85,789.81 633.09,789.12 632.33,788.42 C631.56,787.72 630.80,787.02 630.04,786.32 C629.27,785.62 628.51,784.92 627.74,784.22 C626.98,783.52 626.21,782.83 625.44,782.13 C624.67,781.44 623.90,780.75 623.12,780.06 C622.35,779.38 621.57,778.70 620.79,778.02 C620.01,777.35 619.23,776.68 618.44,776.02 C617.66,775.36 616.87,774.70 616.07,774.05 C615.28,773.40 614.48,772.76 613.68,772.12 C612.88,771.49 612.08,770.86 611.27,770.24 C610.46,769.62 609.65,769.00 608.84,768.39 C608.02,767.78 607.20,767.18 606.38,766.58 C605.56,765.98 604.74,765.39 603.91,764.81 C603.08,764.23 602.25,763.65 601.42,763.08 C600.59,762.51 599.75,761.94 598.91,761.39 C598.07,760.83 597.23,760.28 596.38,759.73 C595.54,759.19 594.69,758.65 593.84,758.11 C592.98,757.58 592.13,757.06 591.27,756.54 C590.41,756.02 589.55,755.50 588.69,754.99 C587.83,754.49 586.96,753.99 586.09,753.49 C585.22,753.00 584.35,752.51 583.47,752.02 C582.60,751.54 581.72,751.06 580.84,750.59 C579.96,750.12 579.08,749.66 578.19,749.20 C577.31,748.74 576.42,748.29 575.53,747.85 C574.64,747.40 573.75,746.96 572.85,746.53 C571.95,746.09 571.06,745.66 570.15,745.24 C569.25,744.82 568.35,744.41 567.45,744.00 C566.54,743.59 565.63,743.18 564.72,742.78 C563.81,742.39 562.90,741.99 561.98,741.61 C561.07,741.22 560.15,740.84 559.23,740.47 C558.31,740.09 557.39,739.73 556.47,739.36 C555.54,739.00 554.62,738.64 553.69,738.29 C552.76,737.94 551.83,737.60 550.90,737.26 C549.97,736.92 549.03,736.59 548.09,736.26 C547.16,735.93 546.22,735.61 545.28,735.29 C544.34,734.98 543.40,734.67 542.45,734.36 C541.51,734.06 540.56,733.76 539.61,733.47 C538.67,733.17 537.72,732.89 536.76,732.60 C535.81,732.32 534.86,732.04 533.90,731.77 C532.95,731.50 531.99,731.24 531.03,730.98 C530.08,730.72 529.12,730.46 528.15,730.22 C527.19,729.97 526.23,729.72 525.26,729.49 C524.30,729.25 523.33,729.02 522.37,728.79 C521.40,728.57 520.43,728.34 519.46,728.13 C518.49,727.91 517.51,727.70 516.54,727.50 C515.57,727.29 514.59,727.09 513.61,726.90 C512.64,726.71 511.66,726.52 510.68,726.33 C509.70,726.15 508.72,725.97 507.74,725.80 C506.76,725.63 505.78,725.46 504.79,725.30 C503.81,725.14 502.82,724.98 501.84,724.83 C500.85,724.68 499.86,724.53 498.88,724.39 C497.89,724.25 496.90,724.11 495.91,723.98 C494.92,723.85 493.93,723.73 492.93,723.61 C491.94,723.49 490.95,723.37 489.96,723.26 C488.96,723.15 487.97,723.05 486.97,722.95 C485.97,722.85 484.98,722.75 483.98,722.66 C482.98,722.57 481.99,722.49 480.99,722.41 C479.99,722.33 478.99,722.25 477.99,722.18 C476.99,722.11 475.99,722.05 474.99,721.99 C473.99,721.93 472.98,721.88 471.98,721.83 C470.98,721.78 469.98,721.73 468.97,721.69 C467.97,721.65 466.96,721.62 465.96,721.59 C464.96,721.56 463.95,721.53 462.95,721.51 C461.94,721.49 460.93,721.47 459.93,721.46 C458.92,721.45 457.92,721.45 456.91,721.44 C455.90,721.44 454.90,721.45 453.89,721.45 C452.88,721.46 451.88,721.48 450.87,721.49 C449.86,721.51 448.86,721.53 447.85,721.56 C446.84,721.59 445.83,721.62 444.83,721.65 C443.82,721.69 442.81,721.73 441.80,721.78 C440.80,721.82 439.79,721.87 438.78,721.93 C437.77,721.98 436.77,722.04 435.76,722.10 C434.75,722.17 433.74,722.24 432.74,722.31 C431.73,722.38 430.72,722.46 429.72,722.54 C428.71,722.62 427.20,722.76 426.70,722.80 L426.70,683.00 Q426.7,674.1 417.7,674.1 L214,674.1 Q208,674.1 208,680 Z" fill="#dadada" stroke="#000" stroke-width="2.1" stroke-linejoin="round"/>
<rect x="222.4" y="255.8" width="193.8" height="110.9" rx="31" ry="31" fill="#fff" stroke="#000" stroke-width="2.4"/>
<rect x="222.4" y="420" width="193.8" height="48.4" rx="24.2" ry="24.2" fill="#fff" stroke="#000" stroke-width="2.4"/>
<rect x="221.8" y="532.3" width="194.2" height="111.2" rx="32" ry="32" fill="#fff" stroke="#000" stroke-width="2.4"/>
<defs><linearGradient id="sg" x1="0" y1="0" x2="1" y2="0"><stop offset="0" stop-color="#fff"/><stop offset="1" stop-color="#f2f2f2"/></linearGradient></defs>
<rect x="536.25" y="544.00" width="72.60" height="8.4" rx="4.2" ry="4.2" transform="rotate(40.00 572.55 548.20)" fill="url(#sg)" stroke="#000" stroke-width="1.15"/>
<line x1="191.00" y1="121.00" x2="405.70" y2="221.00" stroke="#777" stroke-width="1"/>
<line x1="405.70" y1="221.00" x2="638.20" y2="67.40" stroke="#777" stroke-width="1"/>
<line x1="638.20" y1="67.40" x2="621.30" y2="228.30" stroke="#777" stroke-width="1"/>
<line x1="621.30" y1="228.30" x2="603.20" y2="489.70" stroke="#777" stroke-width="1"/>
<line x1="603.20" y1="489.70" x2="668.00" y2="624.60" stroke="#777" stroke-width="1"/>
<line x1="668.00" y1="624.60" x2="699.50" y2="801.00" stroke="#777" stroke-width="1"/>
<line x1="442.20" y1="701.00" x2="699.50" y2="801.00" stroke="#777" stroke-width="1"/>
<line x1="191.00" y1="121.00" x2="181.80" y2="382.40" stroke="#777" stroke-width="1"/>
<line x1="181.80" y1="382.40" x2="128.00" y2="533.20" stroke="#777" stroke-width="1"/>
<line x1="128.00" y1="533.20" x2="179.10" y2="700.00" stroke="#777" stroke-width="1"/>
<line x1="179.10" y1="700.00" x2="442.20" y2="701.00" stroke="#777" stroke-width="1"/>
<line x1="465.20" y1="625.20" x2="569.40" y2="681.70" stroke="#777" stroke-width="1"/>
<line x1="569.40" y1="681.70" x2="662.00" y2="764.50" stroke="#777" stroke-width="1"/>
<line x1="222.40" y1="312.00" x2="416.20" y2="312.00" stroke="#777" stroke-width="1"/>
<line x1="313.70" y1="256.50" x2="313.70" y2="366.20" stroke="#777" stroke-width="1"/>
<line x1="313.70" y1="371.50" x2="313.70" y2="419.00" stroke="#777" stroke-width="1"/>
<line x1="222.40" y1="444.50" x2="416.20" y2="444.50" stroke="#777" stroke-width="1"/>
<line x1="313.70" y1="421.00" x2="313.70" y2="467.50" stroke="#777" stroke-width="1"/>
<line x1="313.70" y1="469.50" x2="313.70" y2="531.00" stroke="#777" stroke-width="1"/>
<line x1="210.00" y1="585.20" x2="428.00" y2="585.20" stroke="#777" stroke-width="1"/>
<line x1="313.70" y1="645.50" x2="313.70" y2="673.50" stroke="#777" stroke-width="1"/>
<line x1="245.50" y1="199.00" x2="390.50" y2="199.00" stroke="#777" stroke-width="1"/>
<line x1="208.50" y1="723.20" x2="426.40" y2="723.20" stroke="#777" stroke-width="1"/>
<line x1="559.10" y1="508.10" x2="612.30" y2="553.80" stroke="#777" stroke-width="1"/>
<line x1="519.00" y1="533.00" x2="597.80" y2="597.30" stroke="#777" stroke-width="1"/>
<line x1="456.30" y1="607.40" x2="475.60" y2="607.40" stroke="#777" stroke-width="1"/>
<line x1="759.40" y1="40.60" x2="759.40" y2="819.30" stroke="#777" stroke-width="1"/>
<line x1="104.00" y1="839.30" x2="723.40" y2="839.30" stroke="#777" stroke-width="1"/>
<line x1="627.00" y1="39.40" x2="765.70" y2="39.40" stroke="#777" stroke-width="1"/>
<line x1="693.20" y1="819.30" x2="765.00" y2="819.30" stroke="#777" stroke-width="1"/>
<line x1="103.80" y1="612.00" x2="103.80" y2="842.00" stroke="#777" stroke-width="1"/>
<line x1="723.40" y1="750.00" x2="723.40" y2="842.00" stroke="#777" stroke-width="1"/>
<line x1="546.00" y1="522.00" x2="558.40" y2="506.80" stroke="#777" stroke-width="1"/>
<line x1="601.90" y1="567.60" x2="615.10" y2="553.80" stroke="#777" stroke-width="1"/>
<line x1="454.40" y1="603.00" x2="454.40" y2="626.00" stroke="#777" stroke-width="1"/>
<line x1="476.10" y1="603.00" x2="476.10" y2="626.00" stroke="#777" stroke-width="1"/>
<circle cx="190.70" cy="123.50" r="7.3" fill="#fff" stroke="#000" stroke-width="1.15"/>
<circle cx="405.70" cy="221.00" r="7.3" fill="#fff" stroke="#000" stroke-width="1.15"/>
<circle cx="638.20" cy="67.40" r="7.3" fill="#fff" stroke="#000" stroke-width="1.15"/>
<circle cx="621.30" cy="228.30" r="7.3" fill="#fff" stroke="#000" stroke-width="1.15"/>
<circle cx="603.20" cy="489.70" r="7.3" fill="#fff" stroke="#000" stroke-width="1.15"/>
<circle cx="668.00" cy="624.60" r="7.3" fill="#fff" stroke="#000" stroke-width="1.15"/>
<circle cx="699.50" cy="801.00" r="7.3" fill="#fff" stroke="#000" stroke-width="1.15"/>
<circle cx="442.20" cy="701.00" r="7.3" fill="#fff" stroke="#000" stroke-width="1.15"/>
<circle cx="181.80" cy="382.40" r="7.3" fill="#fff" stroke="#000" stroke-width="1.15"/>
<circle cx="128.00" cy="533.20" r="7.3" fill="#fff" stroke="#000" stroke-width="1.15"/>
<circle cx="179.10" cy="700.00" r="7.3" fill="#fff" stroke="#000" stroke-width="1.15"/>
<circle cx="209.40" cy="308.60" r="5.0" fill="#fff" stroke="#222" stroke-width="1.0"/>
<circle cx="429.70" cy="308.60" r="5.0" fill="#fff" stroke="#222" stroke-width="1.0"/>
<circle cx="208.60" cy="585.20" r="4.5" fill="#fff" stroke="#222" stroke-width="1.0"/>
<circle cx="430.10" cy="585.20" r="4.5" fill="#fff" stroke="#222" stroke-width="1.0"/>
<circle cx="208.80" cy="444.50" r="7.0" fill="#fff" stroke="#111" stroke-width="1.1"/>
<circle cx="429.70" cy="444.50" r="7.0" fill="#fff" stroke="#111" stroke-width="1.1"/>
<circle cx="532.10" cy="514.40" r="7.0" fill="#fff" stroke="#111" stroke-width="1.1"/>
<circle cx="612.70" cy="580.70" r="7.0" fill="#fff" stroke="#111" stroke-width="1.1"/>
<circle cx="465.20" cy="625.20" r="10.2" fill="#fff" stroke="#000" stroke-width="1.3"/>
<circle cx="569.40" cy="681.70" r="10.2" fill="#fff" stroke="#000" stroke-width="1.3"/>
<circle cx="662.00" cy="764.50" r="10.2" fill="#fff" stroke="#000" stroke-width="1.3"/>
<line x1="532.10" y1="514.40" x2="517.60" y2="532.30" stroke="#777" stroke-width="1"/>
<line x1="612.70" y1="580.70" x2="598.50" y2="598.70" stroke="#777" stroke-width="1"/>
<path d="M191.00,121.00 L195.77,128.29 L199.65,119.95 Z" fill="#000" stroke="#fff" stroke-width="0.50" stroke-linejoin="miter"/>
<path d="M405.70,221.00 L400.93,213.71 L397.05,222.05 Z" fill="#000" stroke="#fff" stroke-width="0.50" stroke-linejoin="miter"/>
<path d="M405.70,221.00 L414.41,220.76 L409.34,213.08 Z" fill="#000" stroke="#fff" stroke-width="0.50" stroke-linejoin="miter"/>
<path d="M638.20,67.40 L629.49,67.64 L634.56,75.32 Z" fill="#000" stroke="#fff" stroke-width="0.50" stroke-linejoin="miter"/>
<path d="M638.20,67.40 L632.85,74.28 L642.00,75.24 Z" fill="#000" stroke="#fff" stroke-width="0.50" stroke-linejoin="miter"/>
<path d="M621.30,228.30 L626.65,221.42 L617.50,220.46 Z" fill="#000" stroke="#fff" stroke-width="0.50" stroke-linejoin="miter"/>
<path d="M621.30,228.30 L616.20,235.36 L625.38,236.00 Z" fill="#000" stroke="#fff" stroke-width="0.50" stroke-linejoin="miter"/>
<path d="M603.20,489.70 L608.30,482.64 L599.12,482.00 Z" fill="#000" stroke="#fff" stroke-width="0.50" stroke-linejoin="miter"/>
<path d="M603.20,489.70 L602.26,498.36 L610.55,494.38 Z" fill="#000" stroke="#fff" stroke-width="0.50" stroke-linejoin="miter"/>
<path d="M668.00,624.60 L668.94,615.94 L660.65,619.92 Z" fill="#000" stroke="#fff" stroke-width="0.50" stroke-linejoin="miter"/>
<path d="M668.00,624.60 L664.77,632.69 L673.83,631.08 Z" fill="#000" stroke="#fff" stroke-width="0.50" stroke-linejoin="miter"/>
<path d="M699.50,801.00 L702.73,792.91 L693.67,794.52 Z" fill="#000" stroke="#fff" stroke-width="0.50" stroke-linejoin="miter"/>
<path d="M442.20,701.00 L447.43,707.97 L450.76,699.39 Z" fill="#000" stroke="#fff" stroke-width="0.50" stroke-linejoin="miter"/>
<path d="M699.50,801.00 L694.27,794.03 L690.94,802.61 Z" fill="#000" stroke="#fff" stroke-width="0.50" stroke-linejoin="miter"/>
<path d="M191.00,121.00 L186.14,128.23 L195.34,128.56 Z" fill="#000" stroke="#fff" stroke-width="0.50" stroke-linejoin="miter"/>
<path d="M181.80,382.40 L186.66,375.17 L177.46,374.84 Z" fill="#000" stroke="#fff" stroke-width="0.50" stroke-linejoin="miter"/>
<path d="M181.80,382.40 L174.98,387.82 L183.65,390.92 Z" fill="#000" stroke="#fff" stroke-width="0.50" stroke-linejoin="miter"/>
<path d="M128.00,533.20 L134.82,527.78 L126.15,524.68 Z" fill="#000" stroke="#fff" stroke-width="0.50" stroke-linejoin="miter"/>
<path d="M128.00,533.20 L125.77,541.62 L134.57,538.93 Z" fill="#000" stroke="#fff" stroke-width="0.50" stroke-linejoin="miter"/>
<path d="M179.10,700.00 L181.33,691.58 L172.53,694.27 Z" fill="#000" stroke="#fff" stroke-width="0.50" stroke-linejoin="miter"/>
<path d="M179.10,700.00 L186.48,704.63 L186.52,695.43 Z" fill="#000" stroke="#fff" stroke-width="0.50" stroke-linejoin="miter"/>
<path d="M442.20,701.00 L434.82,696.37 L434.78,705.57 Z" fill="#000" stroke="#fff" stroke-width="0.50" stroke-linejoin="miter"/>
<path d="M465.20,625.20 L469.43,632.50 L473.63,624.76 Z" fill="#000"/>
<path d="M569.40,681.70 L565.17,674.40 L560.97,682.14 Z" fill="#000"/>
<path d="M569.40,681.70 L571.83,689.78 L577.70,683.22 Z" fill="#000"/>
<path d="M662.00,764.50 L659.57,756.42 L653.70,762.98 Z" fill="#000"/>
<path d="M222.40,312.00 L229.60,316.40 L229.60,307.60 Z" fill="#000"/>
<path d="M416.20,312.00 L409.00,307.60 L409.00,316.40 Z" fill="#000"/>
<path d="M313.70,256.50 L309.30,263.70 L318.10,263.70 Z" fill="#000"/>
<path d="M313.70,366.20 L318.10,359.00 L309.30,359.00 Z" fill="#000"/>
<path d="M313.70,371.50 L309.30,378.70 L318.10,378.70 Z" fill="#000"/>
<path d="M313.70,419.00 L318.10,411.80 L309.30,411.80 Z" fill="#000"/>
<path d="M222.40,444.50 L229.60,448.90 L229.60,440.10 Z" fill="#000"/>
<path d="M416.20,444.50 L409.00,440.10 L409.00,448.90 Z" fill="#000"/>
<path d="M313.70,421.00 L309.30,428.20 L318.10,428.20 Z" fill="#000"/>
<path d="M313.70,467.50 L318.10,460.30 L309.30,460.30 Z" fill="#000"/>
<path d="M313.70,469.50 L309.30,476.70 L318.10,476.70 Z" fill="#000"/>
<path d="M313.70,531.00 L318.10,523.80 L309.30,523.80 Z" fill="#000"/>
<path d="M210.00,585.20 L217.00,589.60 L217.00,580.80 Z" fill="#000"/>
<path d="M428.00,585.20 L421.00,580.80 L421.00,589.60 Z" fill="#000"/>
<path d="M313.70,645.50 L309.30,652.70 L318.10,652.70 Z" fill="#000"/>
<path d="M313.70,673.50 L318.10,666.30 L309.30,666.30 Z" fill="#000"/>
<path d="M245.50,199.00 L252.70,203.40 L252.70,194.60 Z" fill="#000"/>
<path d="M390.50,199.00 L383.30,194.60 L383.30,203.40 Z" fill="#000"/>
<path d="M208.50,723.20 L215.70,727.60 L215.70,718.80 Z" fill="#000"/>
<path d="M426.40,723.20 L419.20,718.80 L419.20,727.60 Z" fill="#000"/>
<path d="M559.10,508.10 L561.69,516.13 L567.43,509.45 Z" fill="#000"/>
<path d="M612.30,553.80 L609.71,545.77 L603.97,552.45 Z" fill="#000"/>
<path d="M519.00,533.00 L521.80,540.96 L527.36,534.14 Z" fill="#000"/>
<path d="M597.80,597.30 L595.00,589.34 L589.44,596.16 Z" fill="#000"/>
<path d="M456.30,607.40 L463.30,611.50 L463.30,603.30 Z" fill="#000"/>
<path d="M475.60,607.40 L468.60,603.30 L468.60,611.50 Z" fill="#000"/>
<path d="M759.40,40.60 L754.90,49.60 L763.90,49.60 Z" fill="#000"/>
<path d="M759.40,819.30 L763.90,810.30 L754.90,810.30 Z" fill="#000"/>
<path d="M104.00,839.30 L113.00,843.80 L113.00,834.80 Z" fill="#000"/>
<path d="M723.40,839.30 L714.40,834.80 L714.40,843.80 Z" fill="#000"/>
<g font-family="'Liberation Sans', sans-serif" font-size="16" fill="#000">
<text x="324.0" y="167.8" text-anchor="middle">86.8mm</text>
<text x="317.5" y="213.8" text-anchor="middle">56mm</text>
<text x="514.6" y="123.8" text-anchor="middle">95.3mm</text>
<text x="652.4" y="158.7" text-anchor="middle">60mm</text>
<text x="645.8" y="383.1" text-anchor="middle">94.7mm</text>
<text x="678.8" y="555.2" text-anchor="middle">54.7mm</text>
<text x="621.8" y="711.0" text-anchor="middle">44mm</text>
<text x="712.2" y="744.4" text-anchor="middle">56.4mm</text>
<text x="384.0" y="854.3" text-anchor="middle">223mm</text>
<text x="548.0" y="764.0" text-anchor="middle">99.6mm</text>
<text x="146.8" y="275.0" text-anchor="middle">101.5mm</text>
<text x="126.7" y="449.0" text-anchor="middle">53.5mm</text>
<text x="140.0" y="641.8" text-anchor="middle">54mm</text>
<text x="336.7" y="291.0" text-anchor="middle">38mm</text>
<text x="279.0" y="308.6" text-anchor="middle">70mm</text>
<text x="341.9" y="397.8" text-anchor="middle">22mm</text>
<text x="280.0" y="441.6" text-anchor="middle">70mm</text>
<text x="340.4" y="440.2" text-anchor="middle">18mm</text>
<text x="348.2" y="505.5" text-anchor="middle">24.5mm</text>
<text x="321.5" y="582.3" text-anchor="middle">78mm</text>
<text x="342.4" y="666.8" text-anchor="middle">15mm</text>
<text x="318.5" y="696.1" text-anchor="middle">93mm</text>
<text x="311.8" y="741.8" text-anchor="middle">76mm</text>
<text x="533.4" y="584.5" text-anchor="middle">41mm</text>
<text x="517.3" y="642.6" text-anchor="middle">41mm</text>
<text x="764" y="420.1">283mm</text>
<text x="452.2" y="598.6">10mm</text>
<circle cx="443.8" cy="592.1" r="5.0" fill="none" stroke="#000" stroke-width="1.7"/><line x1="438.6" y1="597.8" x2="449.6" y2="586.4" stroke="#000" stroke-width="1.7"/>
<text x="0" y="5.8" text-anchor="middle" transform="translate(595 526) rotate(39.00)">27mm</text>
</g>
</svg>
</body></html>
